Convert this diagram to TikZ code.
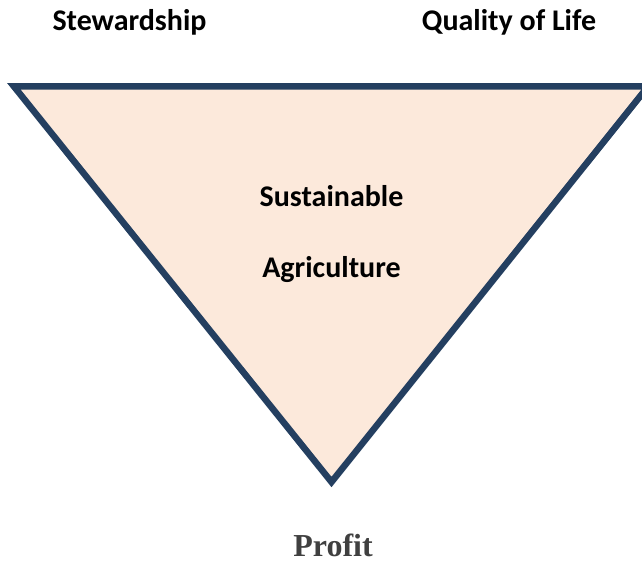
\documentclass[tikz,border=0pt]{standalone}
\usepackage{fontspec}
\setmainfont{Carlito}
\newfontfamily\profitfont{Liberation Serif}
\definecolor{edgeblue}{HTML}{243F60}
\definecolor{peach}{HTML}{FCE9DB}
\definecolor{profitgrey}{HTML}{404040}
\tikzset{
  label/.style={font=\fontsize{30}{36}\selectfont\bfseries, text=black, inner sep=0pt, anchor=base},
  goal/.style={font=\profitfont\fontsize{32}{38}\selectfont\bfseries, text=profitgrey, inner sep=0pt, anchor=base},
  wedge/.style={draw=edgeblue, fill=peach, line width=6.5pt, line join=miter}
}
\begin{document}
\begin{tikzpicture}[x=1pt, y=-1pt]
  \useasboundingbox (0,0) rectangle (642,561);
  \begin{scope}
    \clip (0,0) rectangle (642,561);
    \coordinate (tl) at (14,86.5);
    \coordinate (tr) at (648,86.5);
    \coordinate (apex) at (331.5,482);
    \draw[wedge] (tl) -- (tr) -- (apex) -- cycle;
  \end{scope}
  \node[label] (stew) at (129.5,31) {Stewardship};
  \node[label] (qol) at (509,31) {Quality of Life};
  \node[label] (sus) at (331.5,207) {Sustainable};
  \node[label] (agr) at (331.5,277) {Agriculture};
  \node[goal] (profit) at (333,556.5) {Profit};
\end{tikzpicture}
\end{document}
